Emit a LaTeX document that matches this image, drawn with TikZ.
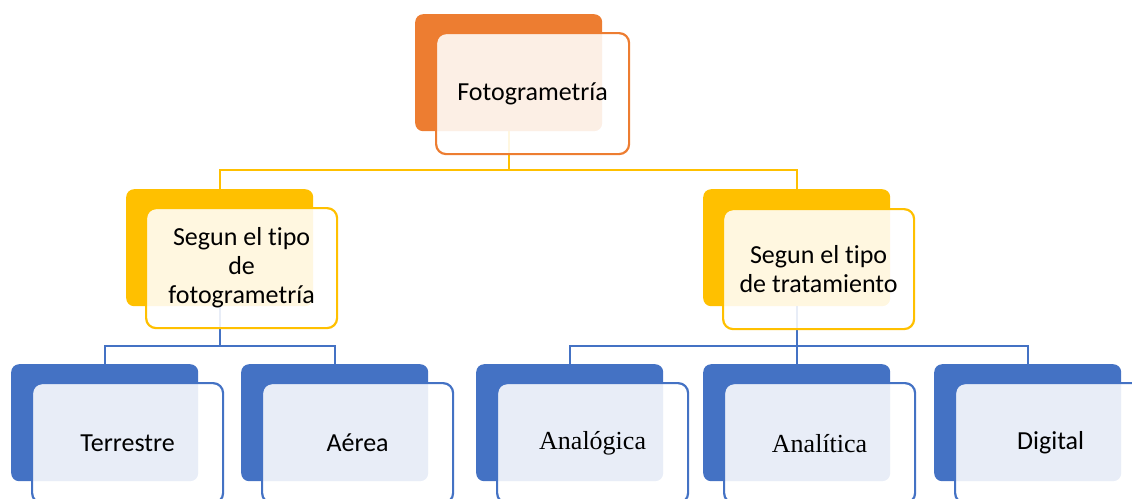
\documentclass[tikz,border=0pt]{standalone}
\usepackage{fontspec}
\setmainfont[RawFeature={-liga;-dlig;-clig}]{Carlito}
\newfontfamily\timesf{Liberation Serif}
\definecolor{corange}{HTML}{ED7D31}
\definecolor{cyellow}{HTML}{FFC000}
\definecolor{cblue}{HTML}{4472C4}
\tikzset{
  backbox/.style={anchor=north west, inner sep=0pt, rounded corners=8pt,
    minimum width=187pt, minimum height=117pt},
  frontbox/.style={anchor=north west, inner sep=2pt, rounded corners=10pt,
    minimum width=191pt, minimum height=120pt, line width=2.2pt, fill=white,
    fill opacity=0.88, text opacity=1, align=center, text=black,
    font=\fontsize{26}{29}\selectfont},
  conn/.style={line width=2pt},
}
\begin{document}
\begin{tikzpicture}[x=1pt,y=-1pt]
\clip (0,0) rectangle (1132,498);
\useasboundingbox (0,0) rectangle (1132,498);
% back boxes
\node[backbox, fill=corange] (b0) at (415,14) {};
\node[backbox, fill=cyellow] (b1) at (126,189) {};
\node[backbox, fill=cyellow] (b2) at (703,189) {};
\node[backbox, fill=cblue] (b3) at (11,364) {};
\node[backbox, fill=cblue] (b4) at (241,364) {};
\node[backbox, fill=cblue] (b5) at (476,364) {};
\node[backbox, fill=cblue] (b6) at (703,364) {};
\node[backbox, fill=cblue] (b7) at (934,364) {};
% connectors
\coordinate (j0) at (509,170);
\coordinate (j1) at (220,346);
\coordinate (j2) at (796,346);
\draw[conn, cyellow] (b0.south) -- (b0.south |- j0) -| (b1.north);
\draw[conn, cyellow] (b0.south |- j0) -| (b2.north);
\draw[conn, cblue] (b1.south) -- (b1.south |- j1) -| (b3.north);
\draw[conn, cblue] (b1.south |- j1) -| (b4.north);
\draw[conn, cblue] (b2.south) -- (b2.south |- j2) -| (b5.north);
\draw[conn, cblue] (b2.south |- j2) -- (b6.north);
\draw[conn, cblue] (b2.south |- j2) -| (b7.north);
% front boxes
\node[frontbox, draw=corange, minimum width=193pt, minimum height=121pt] (f0) at (435,32) {Fotogrametría};
\node[frontbox, draw=cyellow] (f1) at (145,207) {Segun el tipo\\de\\fotogrametría};
\node[frontbox, draw=cyellow] (f2) at (722,208) {Segun el tipo\\de tratamiento};
\node[frontbox, draw=cblue] (f3) at (31,382) {Terrestre};
\node[frontbox, draw=cblue] (f4) at (261,382) {Aérea};
\node[frontbox, draw=cblue, font=\fontsize{26}{29}\timesf] (f5) at (496,382) {Analógica};
\node[frontbox, draw=cblue, font=\fontsize{26}{29}\timesf] (f6) at (723,382) {Analítica};
\node[frontbox, draw=cblue] (f7) at (954,382) {Digital};
\end{tikzpicture}
\end{document}
